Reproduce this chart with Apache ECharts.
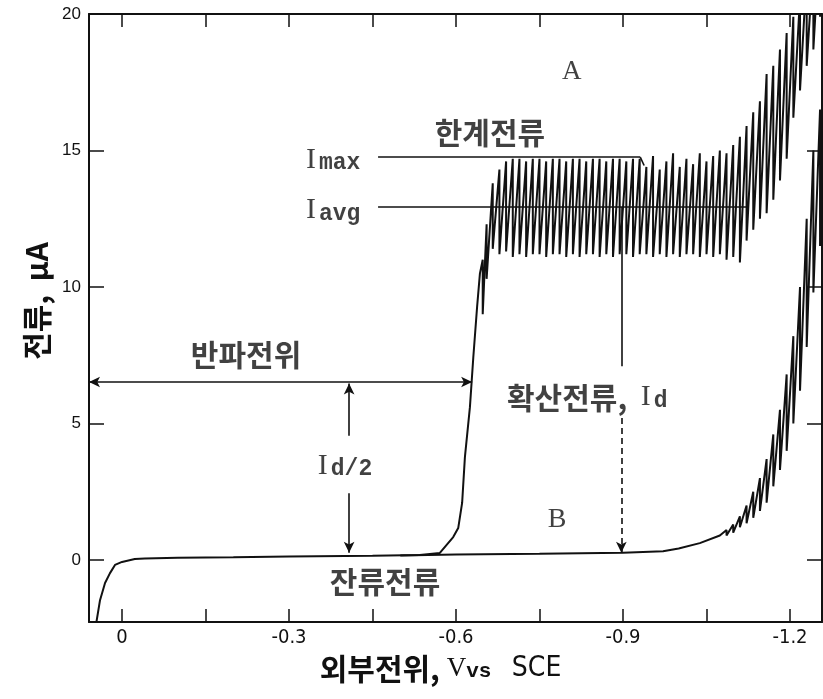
<!DOCTYPE html>
<html>
<head>
<meta charset="utf-8">
<title>폴라로그램</title>
<script src="https://cdn.jsdelivr.net/npm/echarts@6/dist/echarts.min.js"></script>
<style>
  html, body { margin: 0; padding: 0; background: #fff; }
  #chart { width: 823px; height: 699px; }
</style>
</head>
<body>
<div id="chart"></div>
<script>
// 축 눈금
const xTicks = [0, -0.15, -0.3, -0.45, -0.6, -0.75, -0.9, -1.05, -1.2]
const xLabels = [0, -0.3, -0.6, -0.9, -1.2]
const yTicks = [0, 5, 10, 15, 20]

// 곡선 A : 잔류전류 구간 + 상승부 (V vs SCE, μA)
const aFootV = [0.047, 0.0395, 0.0305, 0.0216, 0.0126, 0, -0.023, -0.041, -0.1, -0.2, -0.3, -0.45, -0.535, -0.571, -0.595, -0.604, -0.611, -0.616, -0.625, -0.631, -0.638, -0.643]
const aFootI = [-2.4, -1.47, -0.84, -0.48, -0.18, -0.07, 0.04, 0.06, 0.08, 0.1, 0.13, 0.16, 0.18, 0.26, 0.84, 1.17, 2.09, 3.77, 5.6, 7.4, 9.3, 10.5]

// 곡선 A : 수은 방울마다 떨어지는 전위, 떨어지기 전/후 전류
const aDropV = [-0.648, -0.655, -0.666, -0.678, -0.690, -0.702, -0.714, -0.726, -0.738, -0.750,
  -0.762, -0.774, -0.786, -0.798, -0.810, -0.822, -0.834, -0.846, -0.858, -0.870,
  -0.882, -0.894, -0.906, -0.918, -0.930, -0.942, -0.954, -0.966, -0.978, -0.990,
  -1.002, -1.014, -1.026, -1.038, -1.050, -1.062, -1.074, -1.086, -1.098, -1.110,
  -1.122, -1.134, -1.146, -1.158, -1.170, -1.182, -1.194, -1.206, -1.218, -1.230,
  -1.242, -1.254]
const aDropHi = [11.0, 12.3, 13.8, 14.3, 14.6, 14.7, 14.7, 14.6, 14.7, 14.7,
  14.6, 14.7, 14.7, 14.6, 14.7, 14.7, 14.6, 14.7, 14.7, 14.6,
  14.7, 14.7, 14.6, 14.7, 14.7, 14.4, 14.8, 14.3, 14.6, 14.9,
  14.4, 14.7, 14.5, 14.9, 14.6, 14.8, 15.0, 14.9, 15.2, 15.5,
  15.9, 16.4, 16.8, 17.8, 18.1, 18.7, 19.3, 19.9, 20.6, 21.5,
  22.0, 23.0]
const aDropLo = [9.0, 10.3, 11.4, 11.2, 11.3, 11.1, 11.2, 11.1, 11.2, 11.2,
  11.1, 11.2, 11.2, 11.1, 11.2, 11.1, 11.2, 11.2, 11.1, 11.2,
  11.1, 11.2, 11.2, 11.1, 11.2, 11.2, 11.1, 11.2, 11.1, 11.2,
  11.1, 11.2, 11.2, 11.1, 11.2, 11.1, 11.2, 11.0, 11.1, 10.9,
  11.7, 12.1, 12.5, 12.7, 13.2, 13.9, 14.7, 16.2, 17.2, 18.1,
  18.7, 19.9]

// 곡선 B : 잔류전류만
const bFootV = [-0.5, -0.6, -0.75, -0.9, -0.972, -1.0, -1.038, -1.074]
const bFootI = [0.17, 0.2, 0.23, 0.27, 0.32, 0.42, 0.62, 0.9]
const bDropV = [-1.086, -1.098, -1.110, -1.122, -1.134, -1.146, -1.158, -1.170, -1.182, -1.194, -1.206, -1.218, -1.230, -1.242, -1.254, -1.266]
const bDropHi = [1.1, 1.3, 1.6, 2.0, 2.5, 3.0, 3.7, 4.6, 5.5, 6.8, 8.2, 10.0, 12.5, 15.0, 16.5, 19.5]
const bDropLo = [0.9, 1.0, 1.2, 1.35, 1.55, 1.8, 2.1, 2.7, 3.3, 4.0, 5.0, 6.2, 7.8, 9.8, 11.5, 13.5]

// 기준값
const iMax = 14.76
const iAvg = 12.93
const iHalf = 6.52
const eHalf = -0.629
const iResid = 0.27

function trace(footV, footI, dropV, dropHi, dropLo) {
  const pts = footV.map((v, k) => [v, footI[k]])
  dropV.forEach((v, k) => {
    pts.push([v, dropHi[k]])
    pts.push([v, dropLo[k]])
  })
  return pts
}

const KR = '"Noto Sans CJK KR", "Noto Sans CJK SC", sans-serif'
const NARROW = '"Liberation Sans Narrow", "DejaVu Sans Condensed", sans-serif'
const INK = '#111'

const rich = {
  i: { fontFamily: 'Liberation Serif', fontSize: 30, color: INK, verticalAlign: 'bottom', lineHeight: 32 },
  s: { fontFamily: 'Liberation Mono', fontSize: 23, fontWeight: 'bold', color: INK, verticalAlign: 'bottom', lineHeight: 30, padding: [0, 0, 0, 3] },
  k: { fontFamily: KR, fontSize: 30, fontWeight: 'bold', color: INK, verticalAlign: 'bottom', lineHeight: 32 }
}

const notes = [
  { text: 'A', at: [-0.808, 17.87], pos: 'inside', font: 'Liberation Serif', size: 27 },
  { text: '한계전류', at: [-0.661, 15.64], pos: 'inside', font: KR, size: 30, bold: true },
  { text: '{i|I}{s|max}', at: [-0.3305, 14.7], pos: 'right' },
  { text: '{i|I}{s|avg}', at: [-0.3305, 12.85], pos: 'right' },
  { text: '반파전위', at: [-0.2228, 7.51], pos: 'inside', font: KR, size: 30, bold: true },
  { text: '{i|I}{s|d/2}', at: [-0.4006, 3.48], pos: 'inside' },
  { text: '{k|확산전류,  }{i|I}{s|d}', at: [-0.6916, 6.0], pos: 'right' },
  { text: 'B', at: [-0.7814, 1.47], pos: 'inside', font: 'Liberation Serif', size: 28 },
  { text: '잔류전류', at: [-0.4725, -0.8], pos: 'inside', font: KR, size: 30, bold: true }
]

function seg(from, to, a0, a1, dashed) {
  return [
    { coord: from, symbol: a0, lineStyle: { type: dashed ? [6, 4] : 'solid' } },
    { coord: to, symbol: a1 }
  ]
}

const guides = [
  seg([-0.46, iMax], [-0.931, iMax], 'none', 'none'),
  seg([-0.931, iMax], [-0.938, 14.45], 'none', 'none'),
  seg([-0.46, iAvg], [-1.123, iAvg], 'none', 'none'),
  seg([0.0593, iHalf], [eHalf, iHalf], 'arrow', 'arrow'),
  seg([-0.408, 4.55], [-0.408, iHalf - 0.05], 'none', 'arrow'),
  seg([-0.408, 2.45], [-0.408, iResid], 'none', 'arrow'),
  seg([-0.897, iAvg], [-0.897, 7.1], 'none', 'none'),
  seg([-0.897, 5.2], [-0.897, iResid], 'none', 'arrow', true)
]

const chart = echarts.init(document.getElementById('chart'))

function xAxisCfg(pos) {
  return {
    type: 'value',
    position: pos,
    inverse: true,
    min: -1.2575,
    max: 0.0593,
    axisLine: { show: true, onZero: false, lineStyle: { color: INK, width: 2 } },
    axisTick: { show: true, inside: true, length: 13, customValues: xTicks, lineStyle: { color: INK, width: 1.5 } },
    axisLabel: {
      show: pos === 'bottom',
      customValues: xLabels,
      margin: 6,
      color: INK,
      fontFamily: NARROW,
      fontSize: 20,
      formatter: v => (Math.abs(v) < 1e-9 ? '0' : v.toFixed(1))
    },
    splitLine: { show: false }
  }
}

function yAxisCfg(pos) {
  return {
    type: 'value',
    position: pos,
    min: -2.27,
    max: 20,
    axisLine: { show: true, onZero: false, lineStyle: { color: INK, width: 2 } },
    axisTick: { show: true, inside: true, length: 15, customValues: yTicks, lineStyle: { color: INK, width: 1.5 } },
    axisLabel: {
      show: pos === 'left',
      customValues: yTicks,
      margin: 8,
      color: INK,
      fontFamily: 'Liberation Sans',
      fontSize: 17
    },
    splitLine: { show: false }
  }
}

const xBottom = xAxisCfg('bottom')
xBottom.name = '외부전위, {v|V}{s|vs}   {c|SCE}'
xBottom.nameLocation = 'middle'
xBottom.nameGap = 32
xBottom.nameTextStyle = {
  fontFamily: KR,
  fontSize: 30,
  fontWeight: 'bold',
  color: INK,
  padding: [0, 30, 0, 0],
  rich: {
    v: { fontFamily: 'Liberation Serif', fontSize: 27, fontWeight: 'normal', color: INK },
    s: { fontFamily: 'Liberation Mono', fontSize: 21, fontWeight: 'bold', color: INK, padding: [6, 0, 0, 0] },
    c: { fontFamily: NARROW, fontSize: 28, fontWeight: 'normal', color: INK }
  }
}

const yLeft = yAxisCfg('left')
yLeft.name = '전류,  μA'
yLeft.nameLocation = 'middle'
yLeft.nameRotate = 90
yLeft.nameGap = 34
yLeft.nameTextStyle = { fontFamily: KR, fontSize: 30, fontWeight: 'bold', color: INK, padding: [0, 0, 0, 34] }

chart.setOption({
  backgroundColor: '#fff',
  animation: false,
  grid: { left: 89, right: 1, top: 14, bottom: 77 },
  xAxis: [xBottom, xAxisCfg('top')],
  yAxis: [yLeft, yAxisCfg('right')],
  series: [
    {
      name: 'A',
      type: 'line',
      data: trace(aFootV, aFootI, aDropV, aDropHi, aDropLo),
      showSymbol: false,
      clip: true,
      lineStyle: { color: INK, width: 2 },
      markLine: {
        silent: true,
        symbolSize: [8, 11],
        label: { show: false },
        lineStyle: { color: INK, width: 1.6 },
        data: guides
      }
    },
    {
      name: 'B',
      type: 'line',
      data: trace(bFootV, bFootI, bDropV, bDropHi, bDropLo),
      showSymbol: false,
      clip: true,
      lineStyle: { color: INK, width: 2 }
    },
    {
      name: 'notes',
      type: 'scatter',
      symbolSize: 0,
      silent: true,
      data: notes.map(n => ({
        value: n.at,
        label: {
          show: true,
          position: n.pos,
          distance: 0,
          formatter: n.text,
          color: INK,
          fontFamily: n.font || 'Liberation Serif',
          fontSize: n.size || 30,
          fontWeight: n.bold ? 'bold' : 'normal',
          rich: rich
        }
      }))
    }
  ]
})
</script>
</body>
</html>
